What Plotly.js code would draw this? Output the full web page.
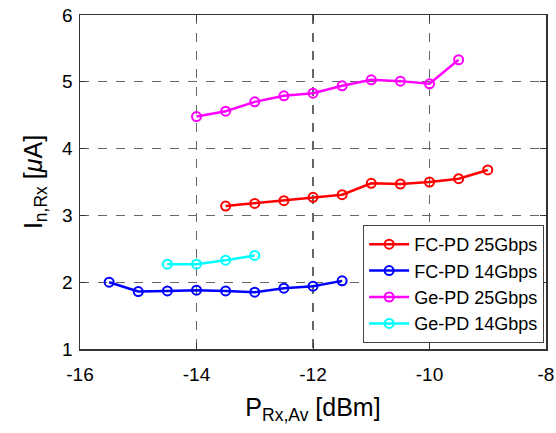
<!DOCTYPE html>
<html>
<head>
<meta charset="utf-8">
<script src="https://cdn.plot.ly/plotly-3.0.1.min.js"></script>
<style>html,body{margin:0;padding:0;background:#fff;}#chart{width:556px;height:433px;}</style>
</head>
<body>
<div id="chart"></div>
<script>
const fc25X = [-13.5, -13, -12.5, -12, -11.5, -11, -10.5, -10, -9.5, -9];
const fc25Y = [3.14, 3.18, 3.22, 3.27, 3.31, 3.48, 3.47, 3.50, 3.55, 3.68];
const fc14X = [-15.5, -15, -14.5, -14, -13.5, -13, -12.5, -12, -11.5];
const fc14Y = [2.00, 1.86, 1.87, 1.88, 1.87, 1.85, 1.91, 1.94, 2.02];
const ge25X = [-14, -13.5, -13, -12.5, -12, -11.5, -11, -10.5, -10, -9.5];
const ge25Y = [4.48, 4.56, 4.70, 4.79, 4.83, 4.94, 5.03, 5.01, 4.97, 5.33];
const ge14X = [-14.5, -14, -13.5, -13];
const ge14Y = [2.27, 2.27, 2.33, 2.40];
const names = ['FC-PD 25Gbps', 'FC-PD 14Gbps', 'Ge-PD 25Gbps', 'Ge-PD 14Gbps'];
const colors = ['#ff0000', '#0000ff', '#ff00ff', '#00ffff'];
const xTicks = [-16, -14, -12, -10, -8];
const yTicks = [1, 2, 3, 4, 5, 6];

const FONT = '"Liberation Sans", Arial, sans-serif';

const series = [[fc25X, fc25Y], [fc14X, fc14Y], [ge25X, ge25Y], [ge14X, ge14Y]];
const traces = series.map((s, i) => ({
  x: s[0], y: s[1], name: names[i], type: 'scatter', mode: 'lines+markers',
  line: {color: colors[i], width: 2.5},
  marker: {symbol: 'circle-open', size: 9, color: colors[i], line: {width: 2, color: colors[i]}}
}));

const axisCommon = {
  showline: true, mirror: 'ticks', linecolor: '#333', linewidth: 1.5,
  ticks: 'inside', ticklen: 6, tickcolor: '#333',
  showgrid: true, gridcolor: '#666', griddash: 'dash', gridwidth: 1.3,
  zeroline: false,
  tickfont: {family: FONT, size: 19, color: '#000'}
};

const layout = {
  width: 556, height: 433,
  margin: {l: 80, r: 10, t: 15, b: 84},
  paper_bgcolor: '#fff', plot_bgcolor: '#fff',
  showlegend: true,
  xaxis: Object.assign({}, axisCommon, {
    range: [-16, -8], tickvals: xTicks, ticktext: xTicks.map(String),
    ticklabelstandoff: 8,
    title: {text: 'P<sub>Rx,Av</sub> [dBm]', font: {family: FONT, size: 25, color: '#000'}, standoff: 14}
  }),
  yaxis: Object.assign({}, axisCommon, {
    range: [1, 6], tickvals: yTicks, ticktext: yTicks.map(String),
    ticklabelstandoff: 2,
    title: {text: 'I<sub>n,Rx</sub> [<i>μ</i>A]', font: {family: FONT, size: 25, color: '#000'}, standoff: 12}
  }),
  legend: {
    x: 0.996, y: 0.018, xanchor: 'right', yanchor: 'bottom',
    bgcolor: '#fff', bordercolor: '#444', borderwidth: 1,
    font: {family: FONT, size: 18, color: '#000'},
    tracegroupgap: 0, itemwidth: 40
  }
};

Plotly.newPlot('chart', traces, layout, {displayModeBar: false, staticPlot: true});
</script>
</body>
</html>
